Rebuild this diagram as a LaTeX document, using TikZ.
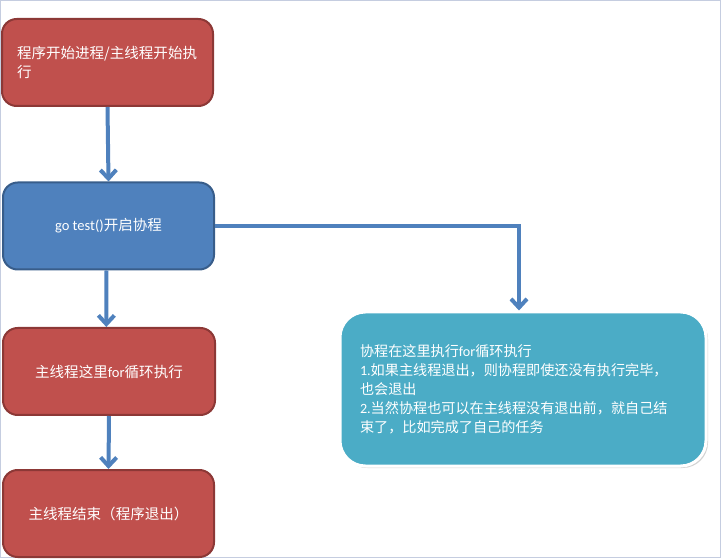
\documentclass[tikz,border=0pt]{standalone}
\usepackage{fontspec}
\setmainfont{Noto Sans CJK SC}
\newfontfamily\latfont{Carlito}
\newcommand\lat[1]{{\latfont #1}}
\usetikzlibrary{arrows.meta,shadows}
\definecolor{redfill}{HTML}{C0504D}
\definecolor{redline}{HTML}{8C3836}
\definecolor{bluefill}{HTML}{4F81BD}
\definecolor{blueline}{HTML}{385D8A}
\definecolor{tealfill}{HTML}{4BACC6}
\definecolor{frame}{HTML}{C5CDE0}
\tikzset{
  base/.style={rectangle, rounded corners=11pt, line width=1.5pt, text=white,
    minimum width=158.25pt, minimum height=65.25pt, inner sep=0pt,
    font=\fontsize{10.9}{14.5}\selectfont},
  redbox/.style={base, fill=redfill, draw=redline},
  bluebox/.style={base, fill=bluefill, draw=blueline},
  tealbox/.style={rectangle, rounded corners=19pt, fill=tealfill, draw=white,
    line width=2.25pt, text=white, minimum width=274.5pt, minimum height=115.5pt,
    inner sep=0pt, align=left, text width=244.5pt,
    font=\fontsize{10.6}{14.25}\selectfont,
    drop shadow={shadow xshift=1.5pt, shadow yshift=-1.5pt, opacity=0.35}},
  arr/.style={draw=bluefill, line width=3pt,
    -{Straight Barb[length=6.5pt,width=12pt]}}
}
\begin{document}
\begin{tikzpicture}[x=0.75pt,y=-0.75pt]
\useasboundingbox (0,0) rectangle (721,559);
\draw[frame, line width=0.75pt] (0.5,0.5) rectangle (720,557.5);
\node[redbox, align=left, text width=135.75pt] (b1) at (107.5,62.5)
  {程序开始进程/主线程开始执\\行};
\node[bluebox] (b2) at (108.5,226) {\lat{go test()}开启协程};
\node[redbox, minimum width=159pt] (b3) at (109,371.5) {主线程这里\lat{for}循环执行};
\node[redbox] (b4) at (108.5,513.5) {主线程结束（程序退出）};
\node[tealbox] (t) at (523,389)
  {协程在这里执行\lat{for}循环执行\\
   \lat{1.}如果主线程退出，则协程即使还没有执行完毕，\\
   也会退出\\
   \lat{2.}当然协程也可以在主线程没有退出前，就自己结\\
   束了，比如完成了自己的任务};
\draw[arr] (b1.south) -- (b2.north);
\draw[arr] ([xshift=-1.5]b2.south) -- ([xshift=-2]b3.north);
\draw[arr] (b3.south) -- (b4.north);
\draw[arr] (b2.east) -| ([xshift=-3]t.north);
\end{tikzpicture}
\end{document}
